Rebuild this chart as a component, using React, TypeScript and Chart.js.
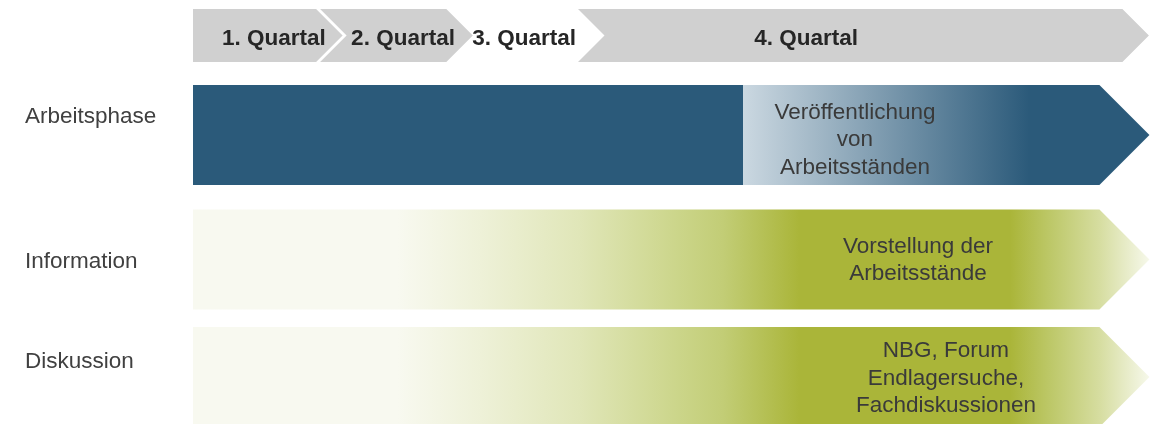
import React, { useEffect, useRef } from "react";
import { Chart, registerables } from "chart.js";

Chart.register(...registerables);

// ---------- data ----------
const QUARTERS = ["1. Quartal", "2. Quartal", "3. Quartal", "4. Quartal"];
const QUARTER_START = [0, 0.98, 2, 3];
const QUARTER_END = [0.98, 2, 3, 7.28];
const QUARTER_LABEL_X = [0.634, 1.645, 2.593, 4.802];
const QUARTER_ROW = 35.5;
const QUARTER_LABEL_Y = 38.5;

const ROWS = ["Arbeitsphase", "Information", "Diskussion"];
const ROW_CENTER = [135, 259.5, 377];
const ROW_LABEL_Y = [117, 262, 362];
const PHASE_START = [0, 0, 0];
const PHASE_END = [7.1, 7.1, 7.1];

const NOTES = [
  ["Veröffentlichung", "von", "Arbeitsständen"],
  ["Vorstellung der", "Arbeitsstände"],
  ["NBG, Forum", "Endlagersuche,", "Fachdiskussionen"],
];
const NOTE_X = [5.185, 5.679, 5.898];
const NOTE_Y = [140, 260.5, 378.5];

// ---------- styles ----------
const FONT = '"Liberation Sans", Arial, Helvetica, sans-serif';
const QUARTER_FILL = ["#d0d0d0", "#d0d0d0", "#ffffff", "#d0d0d0"];
const GAP = 4;
const BLUE = "#2b5a7a";
const BLUE_STOPS: [number, string][] = [
  [0, BLUE],
  [4.305, BLUE],
  [4.306, "#cbd8e1"],
  [6.55, BLUE],
  [7.6, BLUE],
];
const GREEN_STOPS: [number, string][] = [
  [0, "#f8f9f0"],
  [1.6, "#f8f9f0"],
  [2.25, "#eef1d8"],
  [3.03, "#e0e6b8"],
  [3.81, "#cbd589"],
  [4.15, "#c2cd76"],
  [4.75, "#aab539"],
  [6.4, "#aab539"],
  [6.7, "#bcc766"],
  [7.1, "#d6dda0"],
  [7.49, "#f6f8ea"],
];
const ROW_STOPS = [BLUE_STOPS, GREEN_STOPS, GREEN_STOPS];

export default function App() {
  const ref = useRef<HTMLCanvasElement>(null);

  useEffect(() => {
    document.body.style.margin = "0";
    document.body.style.overflow = "hidden";
    const canvas = ref.current;
    if (!canvas) return;

    const shapes = {
      id: "shapes",
      beforeDatasetDraw(chart: any, args: any) {
        const meta = args.meta;
        const ctx = chart.ctx;
        const xs = chart.scales.x;
        const n = meta.data.length;
        meta.data.forEach((el: any, i: number) => {
          const p = el.getProps(["x", "y", "base", "height"], true);
          const left = Math.min(p.base, p.x);
          const right = Math.max(p.base, p.x);
          const h = p.height;
          const half = h / 2;
          const top = p.y - half;
          const bottom = p.y + half;
          ctx.save();
          ctx.beginPath();
          if (meta.index === 0) {
            const l = i > 0 ? left + GAP / 2 : left;
            const r = i < n - 1 ? right - GAP / 2 : right;
            ctx.moveTo(l, top);
            ctx.lineTo(r, top);
            ctx.lineTo(r + half, p.y);
            ctx.lineTo(r, bottom);
            ctx.lineTo(l, bottom);
            if (i > 0) ctx.lineTo(l + half, p.y);
            ctx.closePath();
            ctx.fillStyle = QUARTER_FILL[i];
          } else {
            ctx.moveTo(left, top);
            ctx.lineTo(right, top);
            ctx.lineTo(right + half, p.y);
            ctx.lineTo(right, bottom);
            ctx.lineTo(left, bottom);
            ctx.closePath();
            const x0 = left;
            const x1 = right + half;
            const g = ctx.createLinearGradient(x0, 0, x1, 0);
            ROW_STOPS[i].forEach(([v, c]) => {
              const off = (xs.getPixelForValue(v) - x0) / (x1 - x0);
              g.addColorStop(Math.max(0, Math.min(1, off)), c);
            });
            ctx.fillStyle = g;
          }
          ctx.fill();
          ctx.restore();
        });
        return false;
      },
      afterDatasetsDraw(chart: any) {
        const ctx = chart.ctx;
        const xs = chart.scales.x;
        const ys = chart.scales.y;
        ctx.save();
        ctx.textAlign = "center";
        ctx.textBaseline = "middle";
        ctx.font = `bold 22.5px ${FONT}`;
        ctx.fillStyle = "#262626";
        QUARTERS.forEach((q, i) => {
          ctx.fillText(q, xs.getPixelForValue(QUARTER_LABEL_X[i]), ys.getPixelForValue(QUARTER_LABEL_Y));
        });
        ctx.font = `22.5px ${FONT}`;
        ctx.fillStyle = "#3a3a3a";
        NOTES.forEach((lines, i) => {
          const cy = ys.getPixelForValue(NOTE_Y[i]);
          const cx = xs.getPixelForValue(NOTE_X[i]);
          lines.forEach((t, j) => {
            ctx.fillText(t, cx, cy + (j - (lines.length - 1) / 2) * 27.5);
          });
        });
        ctx.restore();
      },
    };

    const chart = new Chart(canvas, {
      type: "bar",
      data: {
        datasets: [
          {
            label: "Quartale",
            data: QUARTERS.map((q, i) => ({ x: [QUARTER_START[i], QUARTER_END[i]], y: QUARTER_ROW })) as any,
            backgroundColor: QUARTER_FILL,
            barThickness: 53,
            stack: "all",
          },
          {
            label: "Phasen",
            data: ROWS.map((r, i) => ({ x: [PHASE_START[i], PHASE_END[i]], y: ROW_CENTER[i] })) as any,
            backgroundColor: BLUE,
            barThickness: 100,
            stack: "all",
          },
        ],
      },
      options: {
        indexAxis: "y",
        responsive: false,
        animation: false,
        layout: { padding: { left: 25, right: 13.5, top: 0, bottom: 0 } },
        plugins: { legend: { display: false }, tooltip: { enabled: false } },
        scales: {
          x: { type: "linear", min: 0, max: 7.5, stacked: false, display: false, offset: false },
          y: {
            type: "linear",
            min: 0,
            max: 424,
            reverse: true,
            offset: false,
            grid: { display: false, offset: false },
            border: { display: false },
            afterBuildTicks: (axis: any) => {
              axis.ticks = ROW_LABEL_Y.map((v) => ({ value: v }));
            },
            afterFit: (axis: any) => {
              axis.width = 168;
              axis.paddingTop = 0;
              axis.paddingBottom = 0;
            },
            ticks: {
              autoSkip: false,
              crossAlign: "far",
              color: "#404040",
              font: { family: FONT, size: 22.5 },
              callback: (_v: any, i: number) => ROWS[i],
            },
          },
        },
      },
      plugins: [shapes],
    } as any);

    return () => chart.destroy();
  }, []);

  return <canvas ref={ref} width={1164} height={424} style={{ display: "block" }} />;
}
